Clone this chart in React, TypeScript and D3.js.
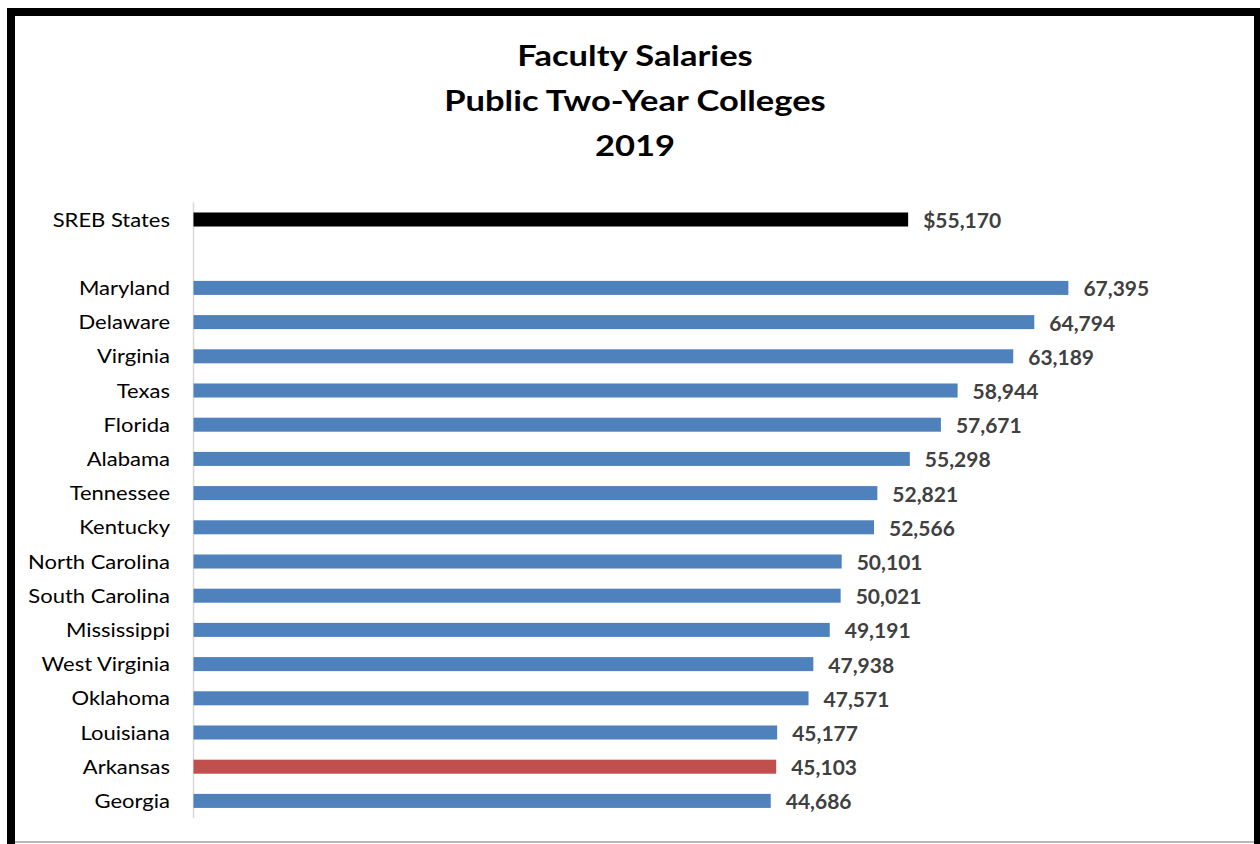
import React from "react";
import * as d3 from "d3";

const categories = [
  "SREB States", "", "Maryland", "Delaware", "Virginia", "Texas", "Florida", "Alabama",
  "Tennessee", "Kentucky", "North Carolina", "South Carolina", "Mississippi",
  "West Virginia", "Oklahoma", "Louisiana", "Arkansas", "Georgia",
];
const salaries: (number | null)[] = [
  55170, null, 67395, 64794, 63189, 58944, 57671, 55298, 52821, 52566, 50101, 50021,
  49191, 47938, 47571, 45177, 45103, 44686,
];
const valueLabels = [
  "$55,170", "", "67,395", "64,794", "63,189", "58,944", "57,671", "55,298", "52,821",
  "52,566", "50,101", "50,021", "49,191", "47,938", "47,571", "45,177", "45,103", "44,686",
];
const titleLines = ["Faculty Salaries", "Public Two-Year Colleges", "2019"];
const axisMin = 650;
const axisMax = 80000;

const W = 1260;
const H = 844;
const plotLeft = 193.5;
const plotRight = 1233.6;
const plotTop = 202.4;
const plotBottom = 818;

function barColor(name: string) {
  if (name === "SREB States") return "#000000";
  if (name === "Arkansas") return "#C0504D";
  return "#4F81BD";
}

export default function App() {
  const x = d3.scaleLinear().domain([axisMin, axisMax]).range([plotLeft, plotRight]);
  const y = d3
    .scaleBand<string>()
    .domain(categories.map((c, i) => c + "#" + i))
    .range([plotTop, plotBottom])
    .paddingInner(0.59)
    .paddingOuter(0.295);
  const font = "Lato, 'Open Sans', sans-serif";

  return (
    <div style={{ position: "absolute", left: 0, top: 0 }}>
      <svg width={W} height={H} style={{ display: "block" }}>
        <rect x={0} y={0} width={W} height={H} fill="#ffffff" />
        <line x1={15} x2={1254} y1={842} y2={842} stroke="#a0a0a0" strokeWidth={1.5} />
        <rect x={11} y={12} width={1247} height={850} fill="none" stroke="#000" strokeWidth={8} />
        {titleLines.map((t, i) => (
          <text
            key={i}
            transform={`translate(635,${66 + i * 45}) scale(1.17,1)`}
            textAnchor="middle"
            fontFamily={font}
            fontWeight={700}
            fontSize={29.5}
            fill="#000"
          >
            {t}
          </text>
        ))}
        <line x1={plotLeft} x2={plotLeft} y1={plotTop} y2={plotBottom} stroke="#d9d9d9" strokeWidth={1.5} />
        {categories.map((c, i) => {
          const key = c + "#" + i;
          const yb = y(key)!;
          const bw = y.bandwidth();
          const cy = yb + bw / 2;
          const v = salaries[i];
          return (
            <g key={key}>
              {c && (
                <text
                  transform={`translate(170,${cy}) scale(1.1,1)`}
                  dy="0.35em"
                  textAnchor="end"
                  fontFamily={font}
                  fontSize={20}
                  fill="#000"
                >
                  {c}
                </text>
              )}
              {v != null && (
                <>
                  <rect x={plotLeft} y={yb} width={x(v) - plotLeft} height={bw} fill={barColor(c)} />
                  <text
                    x={x(v) + 15}
                    y={cy + 1}
                    dy="0.36em"
                    fontFamily={font}
                    fontWeight={700}
                    fontSize={21}
                    fill="#404040"
                  >
                    {valueLabels[i]}
                  </text>
                </>
              )}
            </g>
          );
        })}
      </svg>
    </div>
  );
}
